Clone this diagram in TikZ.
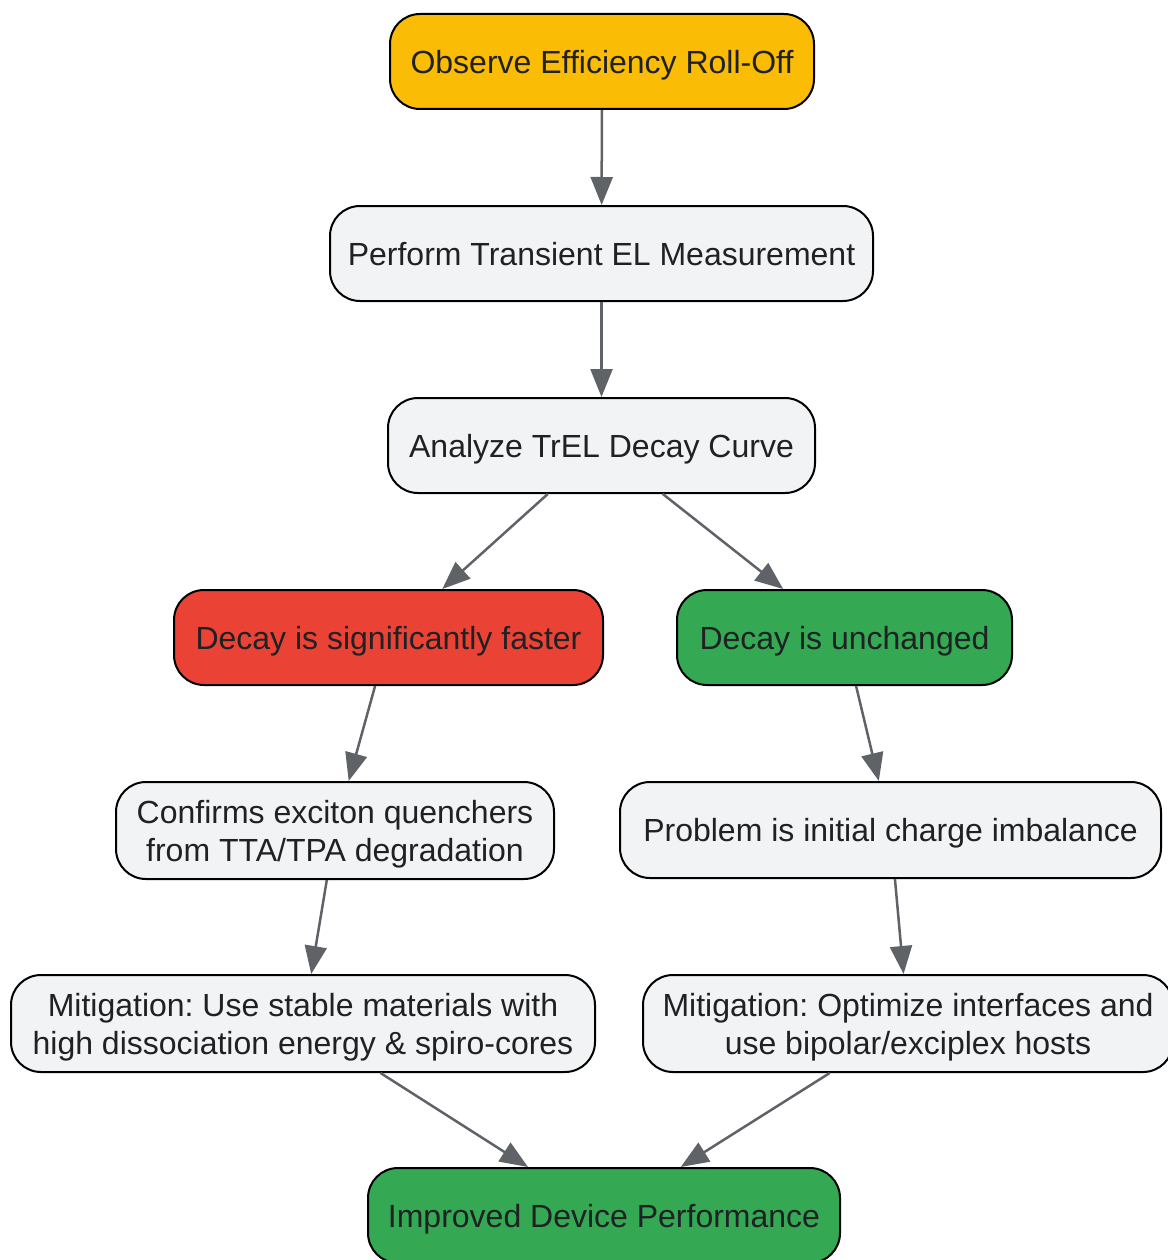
\documentclass[tikz,border=0pt]{standalone}
\usepackage{fontspec}
\setmainfont{Liberation Sans}
\usetikzlibrary{arrows.meta}
\definecolor{cyellow}{HTML}{FBBC05}
\definecolor{cred}{HTML}{EA4335}
\definecolor{cgreen}{HTML}{34A853}
\definecolor{cgray}{HTML}{F1F3F4}
\definecolor{ctext}{HTML}{202124}
\definecolor{carrow}{HTML}{5F6368}
\newcommand{\boxtxt}[1]{\raisebox{-4pt}[\height][\depth]{\begin{tabular}{@{}c@{}}#1\end{tabular}}}
\tikzset{
  box/.style={draw=black, line width=2pt, rounded corners=30pt, fill=cgray,
    text=ctext, align=center, inner sep=0pt,
    font=\fontsize{32}{38}\selectfont\frenchspacing},
  conn/.style={draw=carrow, line width=2.5pt,
    -{Triangle[length=28pt,width=22pt]}}
}
\begin{document}
\begin{tikzpicture}[x=1pt,y=-1pt]
\useasboundingbox (0,0) rectangle (1167,1260);
\node[box, fill=cyellow, minimum width=424pt, minimum height=95pt] (n1) at (602,61.5) {\boxtxt{Observe Efficiency Roll-Off}};
\node[box, minimum width=543pt, minimum height=95pt] (n2) at (601.5,253.5) {\boxtxt{Perform Transient EL Measurement}};
\node[box, minimum width=427pt, minimum height=95pt] (n3) at (601.5,445.5) {\boxtxt{Analyze TrEL Decay Curve}};
\node[box, fill=cred, minimum width=429pt, minimum height=95pt] (n4) at (388.5,637.5) {\boxtxt{Decay is significantly faster}};
\node[box, fill=cgreen, minimum width=335pt, minimum height=95pt] (n5) at (844.5,637.5) {\boxtxt{Decay is unchanged}};
\node[box, minimum width=438pt, minimum height=97pt] (n6) at (335,830.5) {\boxtxt{Confirms exciton quenchers\\from TTA/TPA degradation}};
\node[box, minimum width=541pt, minimum height=96pt] (n7) at (890.5,830) {\boxtxt{Problem is initial charge imbalance}};
\node[box, minimum width=584pt, minimum height=97pt] (n8) at (303,1023.5) {\boxtxt{Mitigation: Use stable materials with\\high dissociation energy \& spiro-cores}};
\node[box, minimum width=530pt, minimum height=97pt] (n9) at (908,1023.5) {\boxtxt{Mitigation: Optimize interfaces and\\use bipolar/exciplex hosts}};
\node[box, fill=cgreen, minimum width=472pt, minimum height=95pt] (n10) at (604,1215.5) {\boxtxt{Improved Device Performance}};
\draw[conn] (n1) -- (n2);
\draw[conn] (n2) -- (n3);
\draw[conn] (n3) -- (n4);
\draw[conn] (n3) -- (n5);
\draw[conn] (n4) -- (n6);
\draw[conn] (n5) -- (n7);
\draw[conn] (n6) -- (n8);
\draw[conn] (n7) -- (n9);
\draw[conn] (n8) -- (n10);
\draw[conn] (n9) -- (n10);
\end{tikzpicture}
\end{document}
